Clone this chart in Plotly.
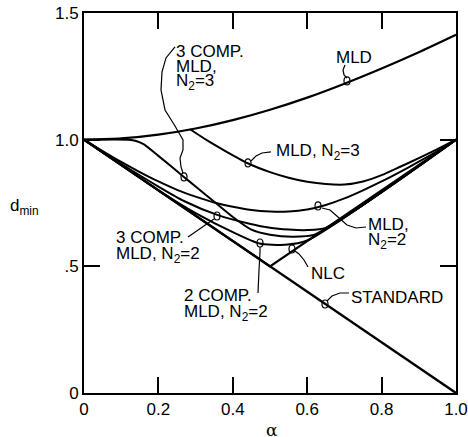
import plotly.graph_objects as go

# ---------------- data ----------------
STD_A = [0.0, 1.0]
STD_D = [1.0, 0.0]

NLC_A = [0.0, 0.5, 1.0]
NLC_D = [1.0, 0.5, 1.0]

MLD_A = [0.0, 0.1, 0.2, 0.3, 0.4, 0.5, 0.6, 0.7, 0.8, 0.9, 1.0]
MLD_D = [1.000, 1.005, 1.020, 1.044, 1.077, 1.118, 1.166, 1.221, 1.281, 1.345, 1.414]

MLD_N3_A = [0.285, 0.33, 0.38, 0.44, 0.50, 0.55, 0.60, 0.65, 0.70, 0.75, 0.80, 0.85, 0.90, 0.95, 1.0]
MLD_N3_D = [1.041, 0.998, 0.955, 0.907, 0.872, 0.850, 0.834, 0.825, 0.823, 0.835, 0.860, 0.893, 0.927, 0.963, 1.0]

MLD_N2_A = [0.0, 0.05, 0.1, 0.15, 0.2, 0.25, 0.3, 0.35, 0.4, 0.45, 0.5, 0.55, 0.6, 0.65, 0.7,
            0.75, 0.8, 0.85, 0.9, 0.95, 1.0]
MLD_N2_D = [1.0, 0.955, 0.912, 0.872, 0.835, 0.802, 0.775, 0.752, 0.735, 0.722, 0.716, 0.716,
            0.724, 0.742, 0.768, 0.80, 0.835, 0.873, 0.913, 0.955, 1.0]

C3_N3_A = [0.0, 0.12, 0.14, 0.16, 0.2, 0.267, 0.3, 0.35, 0.4, 0.45, 0.5, 0.56, 0.62, 1.0]
C3_N3_D = [1.0, 1.0, 0.995, 0.982, 0.936, 0.855, 0.815, 0.755, 0.695, 0.645, 0.625, 0.617, 0.625, 1.0]

C3_N2_A = [0.0, 0.1, 0.2, 0.27, 0.36, 0.445, 0.5, 0.55, 0.6, 0.65, 1.0]
C3_N2_D = [1.0, 0.905, 0.815, 0.757, 0.702, 0.668, 0.652, 0.645, 0.643, 0.652, 1.0]

C2_N2_A = [0.0, 0.1, 0.2, 0.3, 0.4, 0.472, 0.54, 0.6, 1.0]
C2_N2_D = [1.0, 0.9, 0.8, 0.71, 0.635, 0.59, 0.585, 0.602, 1.0]

X_TICKS = [0, 0.2, 0.4, 0.6, 0.8, 1.0]
X_TICK_LABELS = ["0", "0.2", "0.4", "0.6", "0.8", "1.0"]
Y_TICKS = [0, 0.5, 1.0, 1.5]
Y_TICK_LABELS = ["0", ".5", "1.0", "1.5"]

FONT = "Liberation Sans, Arial, Helvetica, sans-serif"

fig = go.Figure()

def add_curve(a, d, w=2.0):
    fig.add_trace(go.Scatter(x=a, y=d, mode="lines",
                             line=dict(color="black", width=w, shape="spline", smoothing=0.6),
                             showlegend=False, hoverinfo="skip"))

def add_straight(a, d, w=2.0):
    fig.add_trace(go.Scatter(x=a, y=d, mode="lines",
                             line=dict(color="black", width=w),
                             showlegend=False, hoverinfo="skip"))

add_straight(STD_A, STD_D, 2.4)
add_straight(NLC_A, NLC_D, 2.2)
add_curve(MLD_A, MLD_D, 2.2)
add_curve(MLD_N3_A, MLD_N3_D, 2.0)
add_curve(MLD_N2_A, MLD_N2_D, 2.0)
add_curve(C3_N3_A, C3_N3_D, 2.0)
add_curve(C3_N2_A, C3_N2_D, 2.0)
add_curve(C2_N2_A, C2_N2_D, 2.0)

# ---------------- label placement helpers (pixel -> data) ----------------
def A(px):
    return (px - 84) / 372.0

def D(py):
    return (393 - py) / 253.3

shapes = []

def leader(pts):
    d = "M %f,%f" % (A(pts[0][0]), D(pts[0][1]))
    for p in pts[1:]:
        d += " L %f,%f" % (A(p[0]), D(p[1]))
    shapes.append(dict(type="path", path=d, xref="x", yref="y",
                       line=dict(color="black", width=1.2)))

def loop(px, py, rx=3, ry=4):
    shapes.append(dict(type="circle", xref="x", yref="y",
                       x0=A(px - rx), x1=A(px + rx), y0=D(py + ry), y1=D(py - ry),
                       line=dict(color="black", width=1.2)))

# MLD
leader([(345, 65), (343, 70), (344, 75), (347, 78)]); loop(347, 81)
# 3 COMP MLD N2=3
leader([(175, 47), (166, 58), (162, 72), (161, 90), (165, 110), (175, 126), (183, 140),
        (183, 150), (180, 158), (181, 167), (183, 173)]); loop(184, 177)
# MLD N2=3
leader([(271, 152), (262, 153), (256, 156), (251, 161)]); loop(248, 163)
# MLD N2=2
leader([(366, 227), (356, 228), (347, 225), (338, 217), (330, 210), (322, 208)]); loop(318, 206)
# NLC
leader([(308, 267), (304, 260), (299, 254), (295, 251)]); loop(292, 249)
# STANDARD
leader([(349, 293), (340, 293), (332, 296), (327, 301)]); loop(325, 304)
# 3 COMP MLD N2=2
leader([(188, 237), (214, 219)]); loop(217, 216)
# 2 COMP MLD N2=2
leader([(258, 293), (259, 270), (260, 252), (260, 247)]); loop(260, 243)

ann = []

def label(text, px, cap_top):
    ann.append(dict(text=text, x=A(px), y=D(cap_top + 8), xref="x", yref="y", showarrow=False,
                    xanchor="left", yanchor="middle", align="left",
                    font=dict(family=FONT, size=17, color="black")))

label("MLD", 334, 50)
label("3 COMP.", 174, 44)
label("MLD,", 174, 59)
label("N<sub>2</sub>=3", 174, 74)
label("MLD, N<sub>2</sub>=3", 274, 144)
label("MLD,", 366, 217)
label("N<sub>2</sub>=2", 366, 233)
label("NLC", 309, 266)
label("STANDARD", 349, 290)
label("3 COMP.", 114, 230)
label("MLD, N<sub>2</sub>=2", 114, 247)
label("2 COMP.", 182, 288)
label("MLD, N<sub>2</sub>=2", 182, 305)

ann.append(dict(text="α", x=0.505, y=-0.097, xref="paper", yref="paper", showarrow=False,
                xanchor="center", yanchor="middle",
                font=dict(family="DejaVu Serif, serif", size=17, color="black")))
ann.append(dict(text="d<sub>min</sub>", x=(24 - 84) / 372.0, y=D(207), xref="paper", yref="y",
                showarrow=False, xanchor="center", yanchor="middle",
                font=dict(family=FONT, size=17, color="black")))

fig.update_layout(
    width=468, height=437,
    margin=dict(l=84, r=12, t=13, b=44, autoexpand=False),
    paper_bgcolor="white", plot_bgcolor="white",
    shapes=shapes, annotations=ann,
    font=dict(family=FONT, size=17, color="black"),
    xaxis=dict(range=[0, 1.0], tickvals=X_TICKS, ticktext=X_TICK_LABELS,
               ticks="inside", ticklen=16, tickwidth=1.5, tickcolor="black",
               showline=True, linecolor="black", linewidth=2, mirror="ticks",
               showgrid=False, zeroline=False, tickfont=dict(size=17), automargin=False),
    yaxis=dict(range=[0, 1.5], tickvals=Y_TICKS, ticktext=Y_TICK_LABELS,
               ticks="inside", ticklen=16, tickwidth=1.5, tickcolor="black",
               showline=True, linecolor="black", linewidth=2, mirror="ticks",
               showgrid=False, zeroline=False, tickfont=dict(size=17), automargin=False),
)

fig.write_html("out.html", config={"responsive": False, "displayModeBar": False},
               post_script="document.body.style.margin='0';document.body.style.overflow='hidden';")
